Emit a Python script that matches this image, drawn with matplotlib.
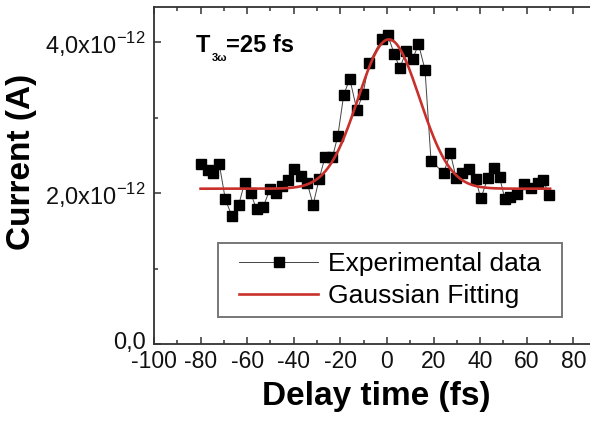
import numpy as np
import matplotlib
matplotlib.use("Agg")
import matplotlib.pyplot as plt
from matplotlib.ticker import FixedLocator, MultipleLocator, FixedFormatter
from matplotlib.transforms import ScaledTranslation

plt.rcParams['font.family'] = ['Liberation Sans', 'DejaVu Sans']
plt.rcParams['axes.unicode_minus'] = False
plt.rcParams['mathtext.fontset'] = 'custom'
plt.rcParams['mathtext.rm'] = 'Liberation Sans'
plt.rcParams['mathtext.bf'] = 'Liberation Sans:bold'

# delay (fs) and photocurrent (units of 1e-12 A)
delay = [-79.7, -76.9, -74.6, -72.0, -69.4, -66.6, -63.7, -61.1, -58.5, -56.0,
         -53.1, -50.3, -47.7, -45.1, -42.6, -39.7, -36.9, -34.3, -31.7, -29.1,
         -26.6, -23.4, -21.1, -18.6, -16.0, -12.9, -10.3, -7.7, -2.3, 0.3,
         3.2, 5.5, 8.3, 11.1, 13.5, 16.3, 18.9, 24.3, 27.2, 29.7,
         32.3, 35.1, 38.0, 40.3, 43.2, 46.0, 48.3, 50.6, 52.9, 56.0,
         58.9, 61.7, 64.6, 66.9, 69.7]
current = [2.39, 2.31, 2.27, 2.39, 1.92, 1.70, 1.84, 2.14, 2.00, 1.79,
           1.82, 2.05, 2.00, 2.10, 2.18, 2.32, 2.23, 2.14, 1.85, 2.19,
           2.48, 2.48, 2.76, 3.30, 3.52, 3.10, 3.32, 3.73, 4.04, 4.10,
           3.84, 3.66, 3.89, 3.78, 3.98, 3.64, 2.43, 2.27, 2.53, 2.20,
           2.27, 2.32, 2.19, 1.93, 2.20, 2.34, 2.22, 1.92, 1.95, 1.99,
           2.12, 2.07, 2.14, 2.18, 1.97]

# gaussian fit parameters: offset, amplitude, centre, FWHM
fit_y0 = 2.06
fit_amp = 1.98
fit_xc = 0.8
fit_fwhm = 31.0

x_ticks = [-100, -80, -60, -40, -20, 0, 20, 40, 60, 80]
y_ticks = [0.0, 2.0, 4.0]
y_ticklabels = ['0,0', r'2,0x10$^{\mathregular{-12}}$', r'4,0x10$^{\mathregular{-12}}$']

W, H = 590, 423
fig = plt.figure(figsize=(W / 100, H / 100), dpi=100)
# the frame runs past the right edge of the figure
ax = fig.add_axes([154 / W, 1 - 344 / H, 466 / W, 337 / H])

xs = np.linspace(-80, 70, 400)
sigma = fit_fwhm / (2 * np.sqrt(2 * np.log(2)))
fit = fit_y0 + fit_amp * np.exp(-0.5 * ((xs - fit_xc) / sigma) ** 2)

ax.plot(delay, current, color='#444444', lw=0.7, marker='s', ms=7,
        mfc='black', mec='black', label='Experimental data', zorder=3)
ax.plot(xs, fit, color='#c9302c', lw=1.9, label='Gaussian Fitting', zorder=4)

ax.set_xlim(-100, 100)
ax.set_ylim(0, 4.47)
ax.xaxis.set_major_locator(FixedLocator(x_ticks))
ax.xaxis.set_minor_locator(MultipleLocator(10))
ax.yaxis.set_major_locator(FixedLocator(y_ticks))
ax.yaxis.set_major_formatter(FixedFormatter(y_ticklabels))
ax.yaxis.set_minor_locator(MultipleLocator(1))
ax.tick_params(which='both', direction='in', top=True, right=True,
               width=1.1, color='#333333')
ax.tick_params(which='major', length=5, labelcolor='#111111')
ax.tick_params(which='minor', length=3)
ax.tick_params(axis='x', pad=4, labelsize=16.5)
ax.tick_params(axis='y', pad=6, labelsize=17)
for s in ax.spines.values():
    s.set_linewidth(1.3)
    s.set_color('#333333')

# lift the zero label a little off the x tick labels
zero_lbl = ax.get_yticklabels()[0]
zero_lbl.set_transform(zero_lbl.get_transform() + ScaledTranslation(0, 4 / 100, fig.dpi_scale_trans))

ax.set_xlabel('Delay time (fs)', fontsize=24, fontweight='bold')
ax.xaxis.set_label_coords(0.476, -0.11)
ax.set_ylabel('Current (A)', fontsize=24, fontweight='bold')
ax.yaxis.set_label_coords(-0.252, 0.54)

# pulse duration annotation
fig.text(196 / W, 1 - 52 / H, 'T', fontsize=17, fontweight='bold', va='baseline')
fig.text(212 / W, 1 - 61 / H, '3ω', fontsize=8, fontweight='bold', va='baseline')
fig.text(226 / W, 1 - 52 / H, '=25 fs', fontsize=17, fontweight='bold', va='baseline')

leg = ax.legend(loc='upper left', bbox_to_anchor=(234 / W, 1 - 247 / H),
                bbox_transform=fig.transFigure, borderaxespad=0, borderpad=0.2,
                fontsize=19, handlelength=3.0, handletextpad=0.35,
                labelspacing=0.3, frameon=True, fancybox=False)
frame = leg.get_frame()
frame.set_edgecolor('#555555')
frame.set_linewidth(1.4)
# wider side padding than top/bottom
frame.set_boxstyle('square', pad=0.6)
frame.set_mutation_aspect(0.25)

fig.savefig('out.png', dpi=100)
